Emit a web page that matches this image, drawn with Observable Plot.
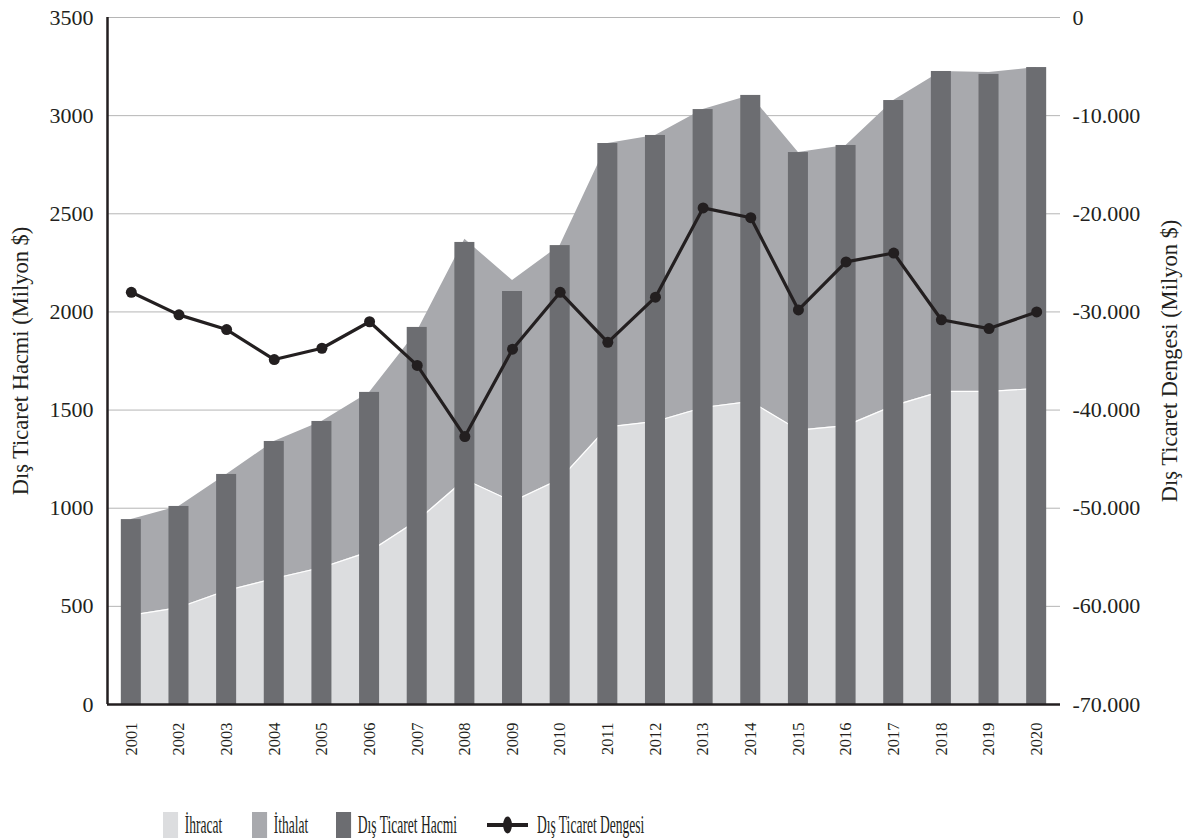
<!DOCTYPE html>
<html>
<head>
<meta charset="utf-8">
<script src="https://cdn.jsdelivr.net/npm/d3@7"></script>
<script src="https://cdn.jsdelivr.net/npm/@observablehq/plot@0.6"></script>
<style>
  body { margin: 0; background: #fff; font-family: "Liberation Serif", serif; }
  #wrap { position: relative; width: 1194px; height: 840px; }
  .lg { position: absolute; top: 812px; height: 26px; display: flex; align-items: center; transform-origin: left center; transform: scaleX(0.52); white-space: nowrap; font-size: 26px; color: #231f20; }
  .sw { width: 29px; height: 26px; margin-right: 13px; }
</style>
</head>
<body>
<div id="wrap"></div>
<script>
const years = [2001,2002,2003,2004,2005,2006,2007,2008,2009,2010,2011,2012,2013,2014,2015,2016,2017,2018,2019,2020];
const hacim = [942,1009,1172,1340,1442,1590,1921,2354,2104,2338,2858,2899,3031,3103,2812,2848,3077,3225,3210,3245];
const ihracat = [455,494,581,642,698,779,937,1146,1034,1149,1414,1442,1513,1544,1398,1421,1523,1595,1595,1610];
const ithalat = [487,515,591,698,744,811,963,1224,1126,1189,1444,1457,1518,1559,1414,1427,1554,1630,1625,1635];
const denge = [-28000,-30300,-31800,-34850,-33700,-31000,-35450,-42700,-33800,-28000,-33100,-28500,-19400,-20400,-29800,-24900,-24000,-30800,-31700,-30000];
const leftTicks = [0,500,1000,1500,2000,2500,3000,3500];
const rightTicks = [-70000,-60000,-50000,-40000,-30000,-20000,-10000,0];

const data = years.map((y, i) => ({year: y, hacim: hacim[i], ihracat: ihracat[i], ithalat: ithalat[i], denge: denge[i]}));

// right axis (-70000..0) mapped onto left axis (0..3500)
const toLeft = v => (v + 70000) * 3500 / 70000;
const fromLeft = v => v * 70000 / 3500 - 70000;
const trFmt = d3.formatLocale({decimal: ",", thousands: ".", grouping: [3], currency: ["", ""], minus: "-"}).format(",");

const C_LIGHT = "#dcdddf", C_MED = "#a8a9ad", C_DARK = "#6c6d71", C_LINE = "#231f20";
const halfBar = 0.21;

const chart = Plot.plot({
  width: 1194,
  height: 800,
  marginLeft: 107,
  marginRight: 134,
  marginTop: 17,
  marginBottom: 96,
  style: {fontFamily: "Liberation Serif", fontSize: "22px", color: "#231f20", background: "#fff"},
  x: {type: "linear", domain: [2000.5, 2020.5]},
  y: {domain: [0, 3500]},
  marks: [
    Plot.ruleY(leftTicks.filter(d => d > 0), {stroke: "#b5b5b5", strokeWidth: 1}),
    Plot.areaY(data, {x: "year", y1: 0, y2: "ihracat", fill: C_LIGHT}),
    Plot.areaY(data, {x: "year", y1: "ihracat", y2: d => d.ihracat + d.ithalat, fill: C_MED}),
    Plot.lineY(data, {x: "year", y: "ihracat", stroke: "#fff", strokeWidth: 1.2}),
    Plot.rectY(data, {x1: d => d.year - halfBar, x2: d => d.year + halfBar, y1: 0, y2: "hacim", fill: C_DARK}),
    Plot.lineY(data, {x: "year", y: d => toLeft(d.denge), stroke: C_LINE, strokeWidth: 3.2}),
    Plot.dot(data, {x: "year", y: d => toLeft(d.denge), r: 5.5, fill: C_LINE}),
    Plot.ruleY([0], {stroke: "#231f20", strokeWidth: 2.5}),
    Plot.ruleX([2000.5], {y1: 0, y2: 3500, stroke: "#231f20", strokeWidth: 2.5}),
    Plot.axisY({anchor: "left", ticks: leftTicks, tickFormat: d => String(d), tickSize: 0, tickPadding: 14, label: null, fontSize: 22}),
    Plot.axisY({anchor: "right", ticks: rightTicks.map(toLeft), tickFormat: d => trFmt(Math.round(fromLeft(d))), tickSize: 0, tickPadding: 12, label: null, fontSize: 22}),
    Plot.axisX({ticks: years, tickFormat: d => String(d), tickRotate: -90, tickSize: 0, tickPadding: 18, label: null, fontSize: 16.5}),
    Plot.text(["Dış Ticaret Hacmi (Milyon $)"], {frameAnchor: "left", dx: -87, rotate: -90, textAnchor: "middle", fontSize: 22.5, fontWeight: "normal", fill: "#231f20"}),
    Plot.text(["Dış Ticaret Dengesi (Milyon $)"], {frameAnchor: "right", dx: 109, rotate: -90, textAnchor: "middle", fontSize: 22.5, fontWeight: "normal", fill: "#231f20"})
  ]
});

const wrap = document.getElementById("wrap");
chart.style.position = "absolute";
chart.style.left = "0px";
chart.style.top = "0px";
wrap.appendChild(chart);

const legendItems = [
  {label: "İhracat", color: C_LIGHT, x: 163},
  {label: "İthalat", color: C_MED, x: 252},
  {label: "Dış Ticaret Hacmi", color: C_DARK, x: 336},
  {label: "Dış Ticaret Dengesi", line: true, x: 487}
];
for (const it of legendItems) {
  const div = document.createElement("div");
  div.className = "lg";
  div.style.left = it.x + "px";
  if (it.line) {
    div.innerHTML = `<svg width="79" height="26" style="margin-right:17px"><line x1="0" y1="13" x2="79" y2="13" stroke="${C_LINE}" stroke-width="4"/><circle cx="39.5" cy="13" r="8.5" fill="${C_LINE}"/></svg><span>${it.label}</span>`;
  } else {
    div.innerHTML = `<div class="sw" style="background:${it.color}"></div><span>${it.label}</span>`;
  }
  wrap.appendChild(div);
}
</script>
</body>
</html>
